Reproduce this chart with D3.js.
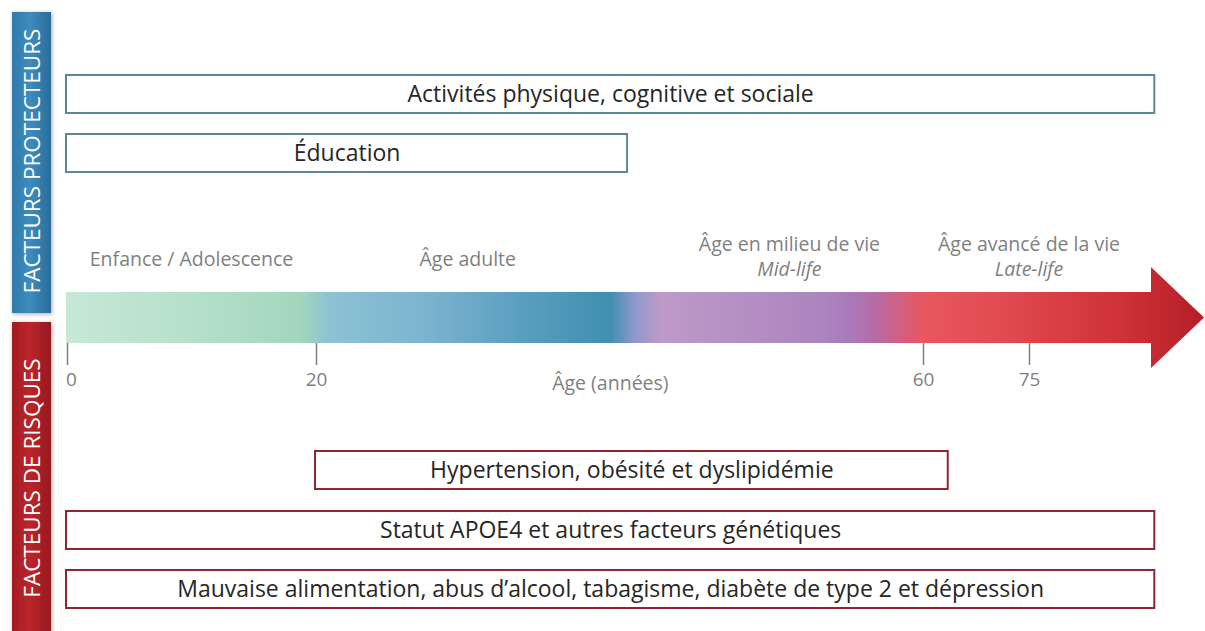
<!DOCTYPE html>
<html>
<head>
<meta charset="utf-8">
<script src="https://cdn.jsdelivr.net/npm/d3@7"></script>
<style>
  body { margin: 0; background: #fff; }
  text { font-family: "Open Sans", Lato, sans-serif; }
</style>
</head>
<body>
<svg id="chart" width="1205" height="631"></svg>
<script>
// ages on the axis and where they sit (the axis is schematic, not linear)
let ageDomain = [0, 20, 60, 75, 100];
let tickAges = [0, 20, 60, 75];

let periods = [
    {label: "Enfance / Adolescence", sub: null, age: 10},
    {label: "Âge adulte", sub: null, age: 30},
    {label: "Âge en milieu de vie", sub: "Mid-life", age: 51.2},
    {label: "Âge avancé de la vie", sub: "Late-life", age: 75}
];

let protecteurs = [
    {label: "Activités physique, cognitive et sociale", start: 0, end: 92.9},
    {label: "Éducation", start: 0, end: 40.5}
];

let risques = [
    {label: "Hypertension, obésité et dyslipidémie", start: 20, end: 63.5},
    {label: "Statut APOE4 et autres facteurs génétiques", start: 0, end: 92.9},
    {label: "Mauvaise alimentation, abus d’alcool, tabagisme, diabète de type 2 et dépression", start: 0, end: 92.9}
];

// colour stops of the arrow, by age
let arrowStops = [
    [0, "#c7e8d7"], [10.7, "#b4dfc9"], [18.7, "#a3d6bd"], [20.9, "#8cc2d3"],
    [26.9, "#7db4d0"], [33.4, "#5b9fc0"], [39.4, "#3f8fb0"], [41, "#8f98cc"],
    [42.7, "#bd9ac8"], [53.5, "#ac84bf"], [55.2, "#a979bb"], [57, "#b96aa3"],
    [60, "#e8575f"], [70.9, "#e14b51"], [88, "#cf3238"], [100, "#b51e28"]
];

let svg = d3.select("#chart");
let defs = svg.append("defs");

let x = d3.scaleLinear().domain(ageDomain).range([67, 316, 923, 1029, 1204]);

// ---- side labels ----
function sideGrad(id, c0, c1, c2) {
    let g = defs.append("linearGradient").attr("id", id)
        .attr("x1", "0%").attr("x2", "100%").attr("y1", "0%").attr("y2", "0%");
    g.append("stop").attr("offset", "0%").attr("stop-color", c0);
    g.append("stop").attr("offset", "45%").attr("stop-color", c1);
    g.append("stop").attr("offset", "100%").attr("stop-color", c2);
}
sideGrad("gBlue", "#3079a8", "#3d8cbf", "#2a6d99");
sideGrad("gRed", "#a31c22", "#bc252b", "#951a20");

let shadow = defs.append("filter").attr("id", "shadow")
    .attr("x", "-30%").attr("y", "-10%").attr("width", "160%").attr("height", "120%");
shadow.append("feDropShadow").attr("dx", 1).attr("dy", 1).attr("stdDeviation", 2)
    .attr("flood-color", "#000").attr("flood-opacity", 0.35);

let sides = [
    {label: "FACTEURS PROTECTEURS", y0: 12, y1: 313, fill: "url(#gBlue)"},
    {label: "FACTEURS DE RISQUES", y0: 322, y1: 640, fill: "url(#gRed)"}
];
let textMid = [161, 478];

sides.forEach(function (s, i) {
    svg.append("rect")
        .attr("x", 12).attr("y", s.y0)
        .attr("width", 39).attr("height", s.y1 - s.y0)
        .attr("fill", s.fill)
        .attr("filter", "url(#shadow)");
    svg.append("text")
        .attr("transform", "translate(40," + textMid[i] + ") rotate(-90)")
        .attr("text-anchor", "middle")
        .attr("font-size", "22.5px")
        .attr("fill", "#fff")
        .text(s.label);
});

// ---- arrow ----
let grad = defs.append("linearGradient").attr("id", "gArrow")
    .attr("gradientUnits", "userSpaceOnUse")
    .attr("x1", x(0) - 1).attr("x2", x(100)).attr("y1", 0).attr("y2", 0);
grad.selectAll("stop").data(arrowStops).enter().append("stop")
    .attr("offset", d => (x(d[0]) - x(0) + 1) / (x(100) - x(0) + 1))
    .attr("stop-color", d => d[1]);

let barTop = 292, barBot = 343, headTop = 267, headBot = 368, headX = 1151;
let arrowPath = d3.path();
arrowPath.moveTo(x(0) - 1, barTop);
arrowPath.lineTo(headX, barTop);
arrowPath.lineTo(headX, headTop);
arrowPath.lineTo(x(100), (headTop + headBot) / 2);
arrowPath.lineTo(headX, headBot);
arrowPath.lineTo(headX, barBot);
arrowPath.lineTo(x(0) - 1, barBot);
arrowPath.closePath();

svg.append("path")
    .attr("d", arrowPath.toString())
    .attr("fill", "url(#gArrow)");

// ---- axis ----
let axis = d3.axisBottom(x).tickValues(tickAges).tickSize(22).tickPadding(6);
let gAxis = svg.append("g")
    .attr("transform", "translate(0," + barBot + ")")
    .call(axis);
gAxis.select(".domain").remove();
gAxis.selectAll(".tick line").attr("stroke", "#7f7f7f").attr("stroke-width", 1.5);
gAxis.selectAll(".tick text")
    .attr("fill", "#7f7f7f")
    .attr("font-size", "19px")
    .attr("font-family", "'Open Sans', Lato, sans-serif")
    .attr("dy", "0.8em");
gAxis.selectAll(".tick text").filter(d => d === 0).attr("dx", "0.2em");

svg.append("text")
    .attr("x", x(39.4)).attr("y", 390)
    .attr("text-anchor", "middle")
    .attr("font-size", "19.5px")
    .attr("fill", "#7f7f7f")
    .text("Âge (années)");

// ---- life periods ----
periods.forEach(function (p) {
    let t = svg.append("text")
        .attr("x", x(p.age))
        .attr("text-anchor", "middle")
        .attr("font-size", "19.5px")
        .attr("fill", "#7f7f7f");
    if (p.sub) {
        t.attr("y", 251).text(p.label);
        svg.append("text")
            .attr("x", x(p.age)).attr("y", 276)
            .attr("text-anchor", "middle")
            .attr("font-size", "19.5px")
            .attr("font-style", "italic")
            .attr("fill", "#7f7f7f")
            .text(p.sub);
    } else {
        t.attr("y", 266).text(p.label);
    }
});

// ---- factor boxes ----
function boxes(data, tops, stroke) {
    data.forEach(function (d, i) {
        svg.append("rect")
            .attr("x", x(d.start) - 1).attr("y", tops[i])
            .attr("width", x(d.end) - x(d.start) + 1).attr("height", 38)
            .attr("fill", "#fff")
            .attr("stroke", stroke).attr("stroke-width", 2);
        svg.append("text")
            .attr("x", (x(d.start) + x(d.end)) / 2)
            .attr("y", tops[i] + 27)
            .attr("text-anchor", "middle")
            .attr("font-size", "23px")
            .attr("fill", "#262626")
            .text(d.label);
    });
}
boxes(protecteurs, [75, 134], "#5b8894");
boxes(risques, [451, 511, 570], "#8e2630");
</script>
</body>
</html>
